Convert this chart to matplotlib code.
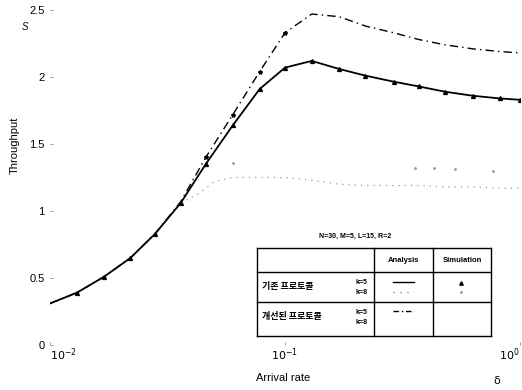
import matplotlib
matplotlib.use("Agg")
import matplotlib.pyplot as plt
from matplotlib.lines import Line2D
from matplotlib.ticker import FixedLocator, NullLocator

plt.rcParams['font.family'] = ['Liberation Sans', 'Noto Sans CJK KR', 'DejaVu Sans']

# ---- data ----
x_rate = [0.01, 0.013, 0.017, 0.022, 0.028, 0.036, 0.046, 0.06, 0.078, 0.1,
          0.13, 0.17, 0.22, 0.29, 0.37, 0.48, 0.63, 0.82, 1.0]
old_k5 = [0.31, 0.39, 0.51, 0.65, 0.83, 1.06, 1.35, 1.64, 1.91, 2.07,
          2.12, 2.06, 2.01, 1.965, 1.93, 1.89, 1.86, 1.84, 1.83]
new_k5 = [0.31, 0.39, 0.51, 0.65, 0.83, 1.07, 1.40, 1.72, 2.04, 2.33,
          2.47, 2.45, 2.38, 2.33, 2.28, 2.24, 2.21, 2.19, 2.18]
old_k8_x = [0.036, 0.042, 0.046, 0.05, 0.06, 0.078, 0.1, 0.13, 0.17, 0.22,
            0.29, 0.37, 0.48, 0.63, 0.82, 1.0]
old_k8 = [1.06, 1.12, 1.17, 1.22, 1.25, 1.25, 1.25, 1.23, 1.20, 1.19,
          1.19, 1.19, 1.18, 1.18, 1.17, 1.17]
sim_k8_x = [0.06, 0.357, 0.43, 0.53, 0.77]
sim_k8 = [1.36, 1.32, 1.32, 1.31, 1.30]

yticks = [0, 0.5, 1, 1.5, 2, 2.5]
ytick_labels = ['0', '0.5', '1', '1.5', '2', '2.5']
xticks = [0.01, 0.1, 1.0]
xtick_labels = [r'$10^{-2}$', r'$10^{-1}$', r'$10^{0}$']

title_txt = 'N=30, M=5, L=15, R=2'
col_heads = ['Analysis', 'Simulation']
row_names = ['기존 프로토콜', '개선된 프로토콜']
k_labels = ['k=5', 'k=8']

W, H = 522, 390
fig = plt.figure(figsize=(W / 100, H / 100), dpi=100)
ax = fig.add_axes([50 / W, 45 / H, 470 / W, 335 / H])

ax.plot(x_rate, new_k5, color='black', lw=1.0, ls=(0, (6, 3, 1, 3)),
        marker='*', ms=3, markevery=[6, 7, 8, 9])
ax.plot(old_k8_x, old_k8, color='#999999', lw=0.9, ls=(0, (1, 4)))
ax.plot(sim_k8_x, sim_k8, color='#999999', lw=0, marker='.', ms=2)
ax.plot(x_rate, old_k5, color='black', lw=1.3, marker='^', ms=2.8,
        markevery=list(range(1, 19)))

ax.set_xscale('log')
ax.set_xlim(0.01, 1.0)
ax.set_ylim(0, 2.5)
for s in ax.spines.values():
    s.set_visible(False)
ax.xaxis.set_major_locator(FixedLocator(xticks))
ax.xaxis.set_minor_locator(NullLocator())
ax.set_xticklabels(xtick_labels)
ax.set_yticks(yticks)
ax.set_yticklabels(ytick_labels)
ax.tick_params(axis='both', direction='in', length=2, width=0.5,
               color='#777777', labelsize=8)
ax.tick_params(axis='x', pad=1)
ax.tick_params(axis='y', pad=4)
xl = ax.get_xticklabels()
xl[0].set_ha('left')
xl[-1].set_ha('right')

fig.text(15 / W, 1 - 145 / H, 'Throughput', rotation=90, ha='center',
         va='center', fontsize=8)
fig.text(283 / W, 1 - 378 / H, 'Arrival rate', ha='center', va='center',
         fontsize=8)
fig.text(25 / W, 1 - 27 / H, 'S', ha='center', va='center', fontsize=7,
         style='italic')
fig.text(497 / W, 1 - 381 / H, 'δ', ha='center', va='center', fontsize=8,
         family=['DejaVu Sans'])

# ---- legend table (positions in pixels) ----
def fx(px):
    return px / W

def fy(py):
    return 1 - py / H

L, R, T, B = 257, 491, 248, 336
c1, c2 = 374, 433
r1, r2 = 272, 302
kw = dict(transform=fig.transFigure, color='black', lw=1.0)
for (x0, y0, x1, y1) in [(L, T, R, T), (L, B, R, B), (L, T, L, B), (R, T, R, B),
                         (c1, T, c1, B), (c2, T, c2, B), (L, r1, R, r1),
                         (L, r2, R, r2)]:
    fig.add_artist(Line2D([fx(x0), fx(x1)], [fy(y0), fy(y1)], **kw))

fig.text(fx(355), fy(236), title_txt, ha='center', va='center', fontsize=5,
         fontweight='bold')
fig.text(fx((c1 + c2) / 2), fy(260), col_heads[0], ha='center', va='center',
         fontsize=5.5, fontweight='bold')
fig.text(fx((c2 + R) / 2), fy(260), col_heads[1], ha='center', va='center',
         fontsize=5.5, fontweight='bold')
fig.text(fx(262), fy(287), row_names[0], ha='left', va='center', fontsize=6.5,
         family=['Noto Sans CJK KR', 'DejaVu Sans'], fontweight='bold')
fig.text(fx(262), fy(317), row_names[1], ha='left', va='center', fontsize=6.5,
         family=['Noto Sans CJK KR', 'DejaVu Sans'], fontweight='bold')
for yc in (282, 312):
    fig.text(fx(362), fy(yc), k_labels[0], ha='center', va='center',
             fontsize=5, fontweight='bold')
    fig.text(fx(362), fy(yc + 10), k_labels[1], ha='center', va='center',
             fontsize=5, fontweight='bold')

fig.add_artist(Line2D([fx(393), fx(414)], [fy(282), fy(282)],
                      transform=fig.transFigure, color='black', lw=1.0))
fig.add_artist(Line2D([fx(393), fx(414)], [fy(292), fy(292)],
                      transform=fig.transFigure, color='#888888', lw=1.0,
                      ls=(0, (1, 4))))
fig.add_artist(Line2D([fx(393), fx(414)], [fy(311), fy(311)],
                      transform=fig.transFigure, color='black', lw=1.0,
                      ls=(0, (4, 2, 1, 2))))
fig.add_artist(Line2D([fx(461)], [fy(283)], transform=fig.transFigure,
                      color='black', marker='^', ms=2.5, lw=0))
fig.add_artist(Line2D([fx(461)], [fy(292)], transform=fig.transFigure,
                      color='#999999', marker='.', ms=2, lw=0))

fig.savefig('out.png', dpi=100)
